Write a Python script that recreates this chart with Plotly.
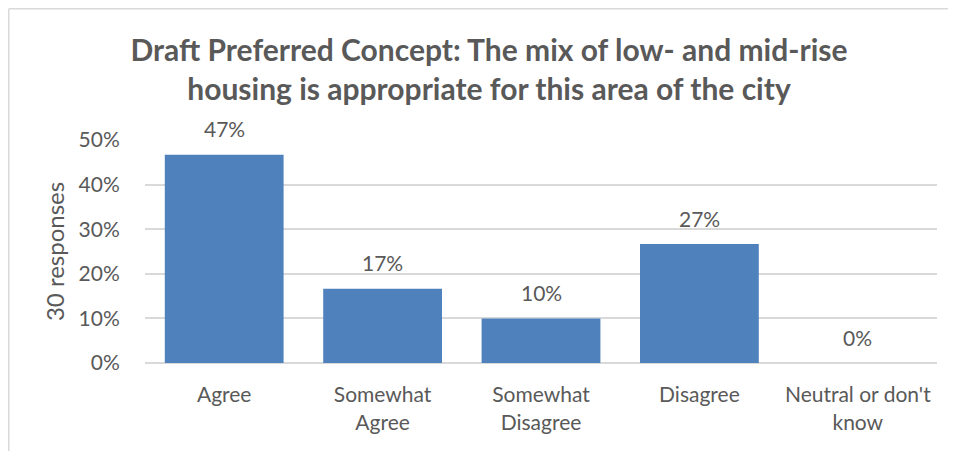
import plotly.graph_objects as go

categories = ["Agree", "Somewhat<br>Agree", "Somewhat<br>Disagree", "Disagree", "Neutral or don't<br>know"]
values = [0.4667, 0.1667, 0.10, 0.2667, 0.0]
labels = ["47%", "17%", "10%", "27%", "0%"]
y_ticks = [0, 0.1, 0.2, 0.3, 0.4, 0.5]
y_tick_labels = ["0%", "10%", "20%", "30%", "40%", "50%"]

TEXT = "#595959"
FONT = "Lato"

# page body has an 8px margin, so figure coords = window coords - 8
W, H = 948, 443
ML, MR, MT, MB = 137, 19, 132, 88
pw, ph = W - ML - MR, H - MT - MB

def px_x(p):
    return (p - ML) / pw

def px_y(p):
    return (H - MB - p) / ph

fig = go.Figure()
fig.add_trace(go.Bar(
    x=categories, y=values,
    marker=dict(color="#4F81BD", line=dict(width=0)),
    hoverinfo="skip",
))

annotations = [
    dict(x=c, y=v, xref="x", yref="y", text=t, showarrow=False,
         yanchor="middle", yshift=26,
         font=dict(family=FONT, size=21, color=TEXT))
    for c, v, t in zip(categories, values, labels)
]

border = dict(color="#d9d9d9", width=1.5)

fig.update_layout(
    width=W, height=H,
    margin=dict(l=ML, r=MR, t=MT, b=MB),
    paper_bgcolor="white", plot_bgcolor="white",
    bargap=0.25,
    showlegend=False,
    annotations=annotations,
    title=dict(
        text="<b>Draft Preferred Concept: The mix of low- and mid-rise<br>housing is appropriate for this area of the city</b>",
        x=px_x(481), xanchor="center", xref="paper",
        y=1 - 53 / H, yanchor="middle",
        font=dict(family=FONT, size=30, color=TEXT),
    ),
    xaxis=dict(
        tickfont=dict(family=FONT, size=21, color=TEXT),
        ticks="outside", ticklen=13, tickcolor="rgba(0,0,0,0)",
        showline=False, showgrid=False,
    ),
    yaxis=dict(
        range=[0, 0.5], tickvals=y_ticks, ticktext=y_tick_labels,
        tickfont=dict(family=FONT, size=21, color=TEXT),
        ticks="outside", ticklen=20, tickcolor="rgba(0,0,0,0)",
        showgrid=True, gridcolor="#d9d9d9", gridwidth=1.5,
        zeroline=True, zerolinecolor="#d9d9d9", zerolinewidth=1.5,
        title=dict(text="30 responses", font=dict(family=FONT, size=24, color=TEXT), standoff=7),
    ),
    shapes=[
        dict(type="line", xref="paper", yref="paper",
             x0=px_x(0.75), x1=px_x(0.75), y0=px_y(H + 10), y1=px_y(0.75),
             line=border, layer="below"),
        dict(type="line", xref="paper", yref="paper",
             x0=px_x(0.75), x1=px_x(W + 10), y0=px_y(0.75), y1=px_y(0.75),
             line=border, layer="below"),
    ],
)

fig.write_html("out.html", post_script="document.body.style.overflow='hidden';")
